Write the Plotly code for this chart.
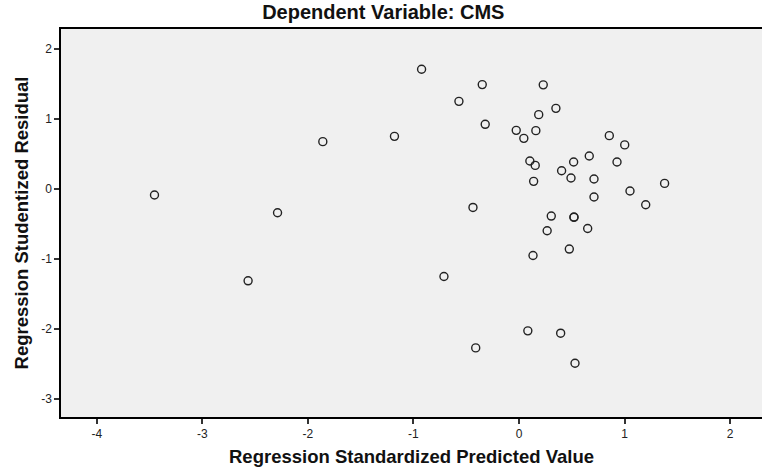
import plotly.graph_objects as go

# Standardized predicted values (x) and studentized residuals (y) per case
predicted = [
    -3.454, -2.288, -1.859, -1.180, -2.567, -0.923, -0.348, 0.230, -0.569, 0.350,
    0.187, -0.320, -0.026, 0.160, 0.046, 0.856, 1.002, 0.103, 0.154, 0.518,
    0.666, 0.929, 0.404, 0.139, 0.493, 0.711, 1.380, 1.052, 0.711, 1.201,
    -0.436, 0.306, 0.521, 0.521, 0.651, 0.267, 0.477, 0.133, -0.711, 0.084,
    0.395, -0.410, 0.531,
]
residual = [
    -0.086, -0.339, 0.676, 0.751, -1.310, 1.709, 1.490, 1.486, 1.251, 1.151,
    1.061, 0.923, 0.837, 0.833, 0.723, 0.761, 0.629, 0.400, 0.337, 0.386,
    0.471, 0.386, 0.261, 0.109, 0.157, 0.143, 0.080, -0.029, -0.114, -0.224,
    -0.263, -0.386, -0.400, -0.405, -0.563, -0.596, -0.857, -0.949, -1.249, -2.024,
    -2.057, -2.267, -2.486,
]

x_ticks = [-4, -3, -2, -1, 0, 1, 2]
y_ticks = [-3, -2, -1, 0, 1, 2]

font_family = "Liberation Sans, Arial, sans-serif"

fig = go.Figure(
    go.Scatter(
        x=predicted,
        y=residual,
        mode="markers",
        marker=dict(
            symbol="circle-open",
            size=8,
            color="#222222",
            line=dict(width=1.4, color="#222222"),
        ),
        hoverinfo="x+y",
    )
)

fig.update_layout(
    width=762,
    height=472,
    margin=dict(l=61, r=0, t=29, b=55),
    paper_bgcolor="white",
    plot_bgcolor="#F0F0F0",
    showlegend=False,
    font=dict(family=font_family, color="#111111"),
    title=dict(
        text="<b>Dependent Variable: CMS</b>",
        x=0.503,
        xref="container",
        xanchor="center",
        y=0.975,
        yref="container",
        yanchor="middle",
        font=dict(size=20, family=font_family, color="#111111"),
    ),
)

fig.update_xaxes(
    range=[-4.34, 2.303],
    tickvals=x_ticks,
    ticktext=[str(v) for v in x_ticks],
    showgrid=False,
    zeroline=False,
    showline=True,
    linecolor="black",
    linewidth=1.5,
    mirror=True,
    ticks="outside",
    ticklen=5,
    tickwidth=1.5,
    tickcolor="#333333",
    tickfont=dict(size=12, family=font_family, color="#222222"),
    title=dict(
        text="<b>Regression Standardized Predicted Value</b>",
        font=dict(size=18.5, family=font_family, color="#111111"),
        standoff=10,
    ),
)

fig.update_yaxes(
    range=[-3.253, 2.283],
    tickvals=y_ticks,
    ticktext=[str(v) for v in y_ticks],
    showgrid=False,
    zeroline=False,
    showline=True,
    linecolor="black",
    linewidth=1.5,
    ticks="outside",
    ticklen=5,
    tickwidth=1.5,
    tickcolor="#333333",
    tickfont=dict(size=12, family=font_family, color="#222222"),
    title=dict(
        text="<b>Regression Studentized Residual</b>",
        font=dict(size=18.5, family=font_family, color="#111111"),
        standoff=8,
    ),
)

fig.write_html("out.html")
